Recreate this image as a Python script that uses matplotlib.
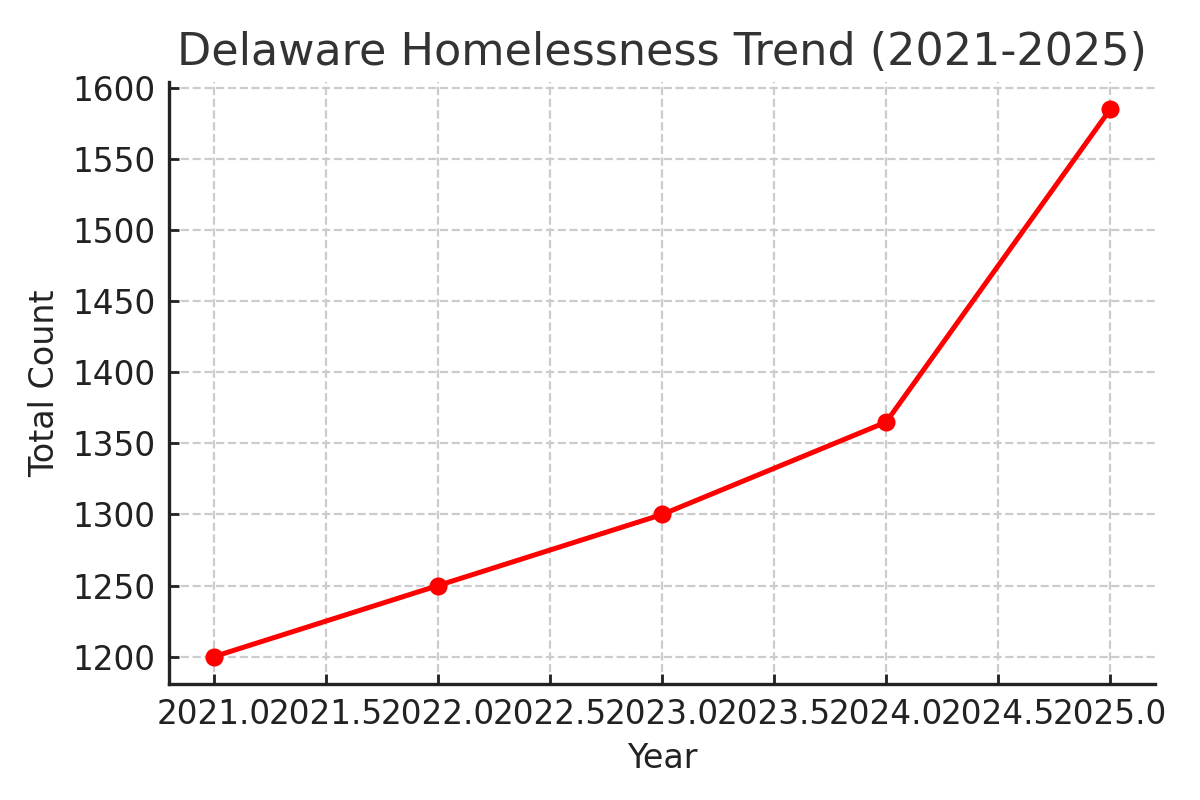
import matplotlib
matplotlib.use('Agg')
import matplotlib.pyplot as plt

# data
years = [2021, 2022, 2023, 2024, 2025]
counts = [1200, 1250, 1300, 1365, 1585]

def main():
    fig, ax = plt.subplots(figsize=(6, 4), dpi=200)
    ax.plot(years, counts, color='red', marker='o', linewidth=1.8, markersize=5.5)

    ax.set_title('Delaware Homelessness Trend (2021-2025)', fontsize=16, color='#333333')
    ax.set_xlabel('Year', fontsize=12, color='#222222')
    ax.set_ylabel('Total Count', fontsize=12, color='#222222')
    ax.tick_params(labelsize=11.8, colors='#222222', direction='in', length=3.5, width=1, pad=5)
    ax.set_yticks(range(1200, 1601, 50))
    ax.grid(True, linestyle='--', color='#cccccc', linewidth=0.8)

    for s in ['top', 'right']:
        ax.spines[s].set_visible(False)
    for s in ['left', 'bottom']:
        ax.spines[s].set_linewidth(1.2)
        ax.spines[s].set_color('#222222')

    fig.subplots_adjust(left=0.141, right=0.9625, top=0.8975, bottom=0.145)
    fig.savefig('out.png', dpi=200)

if __name__ == '__main__':
    main()
